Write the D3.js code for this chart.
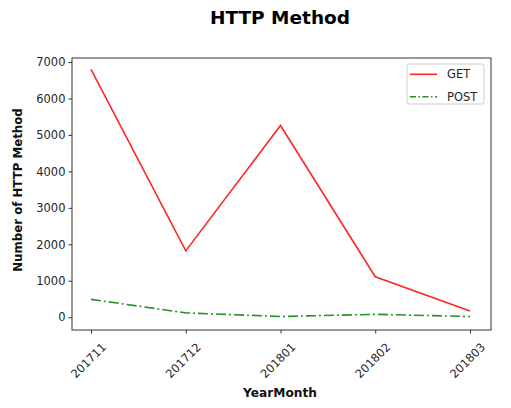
<!DOCTYPE html>
<html>
<head>
<meta charset="utf-8">
<script src="https://cdn.jsdelivr.net/npm/d3@7"></script>
<style>
  body { margin: 0; background: #fff; }
  text { font-family: "DejaVu Sans", sans-serif; fill: #262626; }
</style>
</head>
<body>
<svg id="mySvg" width="511" height="408"></svg>
<script>
const months = ["201711", "201712", "201801", "201802", "201803"];
const getValues = [6800, 1820, 5260, 1110, 170];
const postValues = [490, 120, 20, 80, 20];
const yTicks = [0, 1000, 2000, 3000, 4000, 5000, 6000, 7000];

const svg = d3.select("#mySvg");

const margin = { top: 58, right: 20, bottom: 78, left: 72 },
  width = 491 - margin.left,
  height = 330 - margin.top;

const x = d3
  .scalePoint()
  .domain(months)
  .range([19, width - 21]);

const y = d3.scaleLinear().domain([-350, 7110]).range([height, 0]);

const g = svg
  .append("g")
  .attr("transform", `translate(${margin.left},${margin.top})`);

// axes
const xAxis = g
  .append("g")
  .attr("transform", `translate(0,${height})`)
  .call(d3.axisBottom(x).tickSizeOuter(0).tickSize(3.5).tickPadding(3));
xAxis.select(".domain").remove();
xAxis
  .selectAll("text")
  .attr("font-size", 11.5)
  .attr("text-anchor", "middle")
  .attr("y", 0)
  .attr("dy", "0.35em")
  .attr("transform", "translate(-3,30.5) rotate(-45)");

const yAxis = g
  .append("g")
  .call(
    d3.axisLeft(y)
      .tickValues(yTicks)
      .tickFormat(d3.format("d"))
      .tickSizeOuter(0)
      .tickSize(3.5)
      .tickPadding(3)
  );
yAxis.select(".domain").remove();
yAxis.selectAll("text").attr("font-size", 11.5);

svg.selectAll(".tick line").attr("stroke", "#333");

// frame
g.append("rect")
  .attr("width", width)
  .attr("height", height)
  .attr("fill", "none")
  .attr("stroke", "#333")
  .attr("stroke-width", 1);

const line = d3
  .line()
  .x((d, i) => x(months[i]))
  .y((d) => y(d));

g.append("path")
  .datum(getValues)
  .attr("fill", "none")
  .attr("stroke", "red")
  .attr("stroke-opacity", 0.85)
  .attr("stroke-width", 1.6)
  .attr("d", line);

g.append("path")
  .datum(postValues)
  .attr("fill", "none")
  .attr("stroke", "green")
  .attr("stroke-opacity", 0.85)
  .attr("stroke-width", 1.6)
  .attr("stroke-dasharray", "10 3 2 3")
  .attr("d", line);

// title + labels
svg.append("text")
  .attr("x", 280)
  .attr("y", 24)
  .attr("text-anchor", "middle")
  .attr("font-size", 18.5)
  .attr("font-weight", "bold")
  .style("fill", "#000")
  .text("HTTP Method");

svg.append("text")
  .attr("x", 280)
  .attr("y", 397)
  .attr("text-anchor", "middle")
  .attr("font-size", 12.2)
  .attr("font-weight", "bold")
  .style("fill", "#111")
  .text("YearMonth");

svg.append("text")
  .attr("transform", "translate(22,190) rotate(-90)")
  .attr("text-anchor", "middle")
  .attr("font-size", 11.8)
  .attr("font-weight", "bold")
  .style("fill", "#111")
  .text("Number of HTTP Method");

// legend
const legend = svg.append("g").attr("transform", "translate(407,64)");
legend.append("rect")
  .attr("width", 77)
  .attr("height", 40)
  .attr("rx", 2.5)
  .attr("fill", "#fff")
  .attr("stroke", "#ccc");
const items = [
  { name: "GET", color: "red", dash: null },
  { name: "POST", color: "green", dash: "6 2.5 1.5 2.5" }
];
items.forEach((it, i) => {
  const yy = 10.3 + i * 22.4;
  legend.append("line")
    .attr("x1", 3).attr("x2", 30)
    .attr("y1", yy).attr("y2", yy)
    .attr("stroke", it.color)
    .attr("stroke-opacity", 0.85)
    .attr("stroke-width", 1.6)
    .attr("stroke-dasharray", it.dash);
  legend.append("text")
    .attr("x", 40)
    .attr("y", yy + 4)
    .attr("font-size", 11.5)
    .text(it.name);
});
</script>
</body>
</html>
